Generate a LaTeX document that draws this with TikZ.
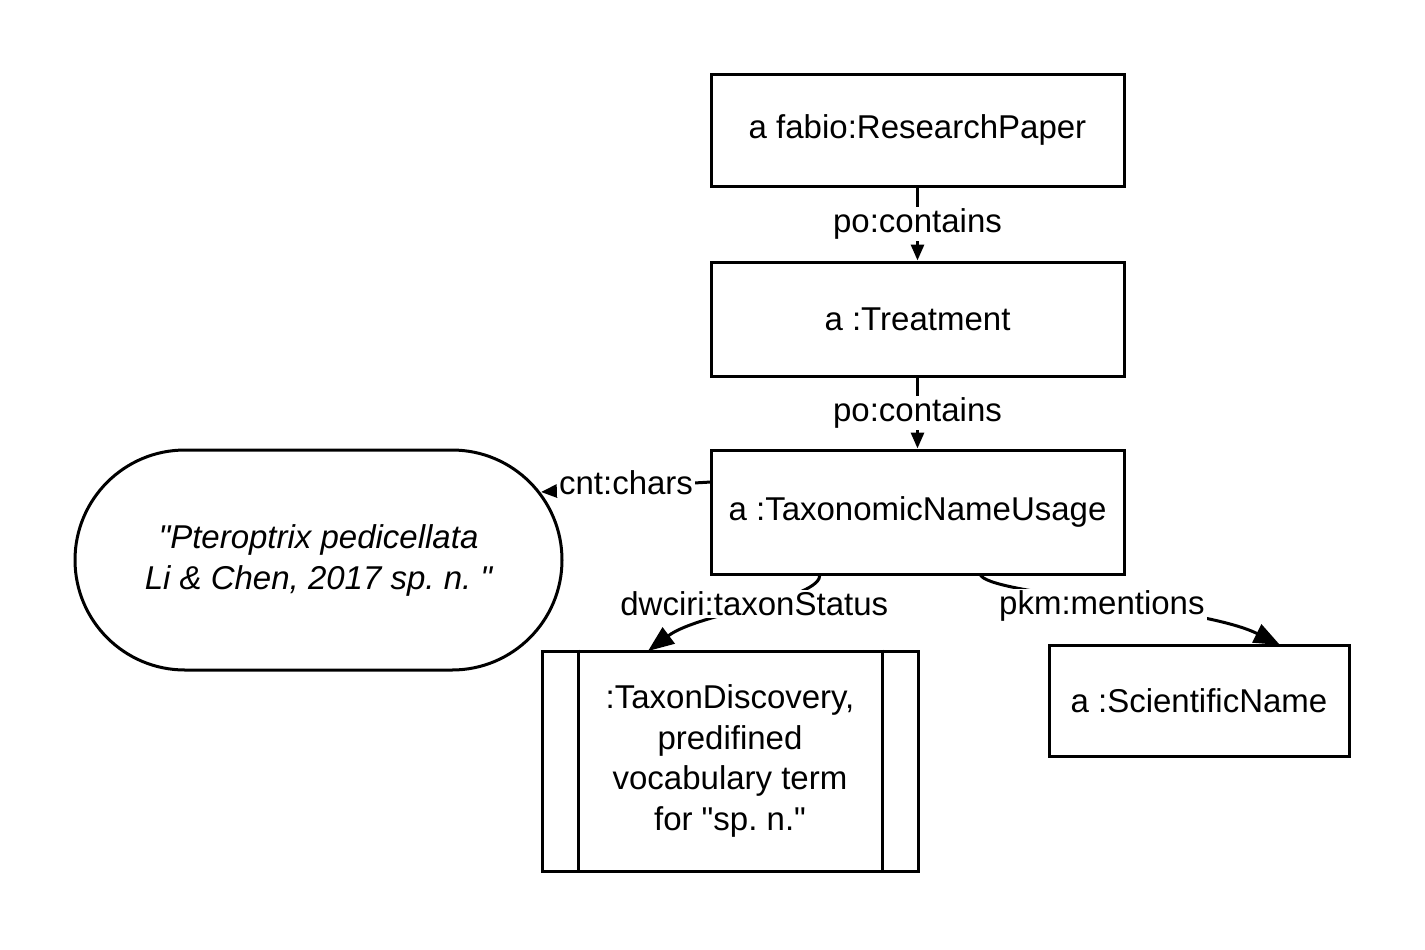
\documentclass[tikz,border=0pt]{standalone}
\usepackage{fontspec}
\setmainfont{Liberation Sans}[Ligatures=TeXOff]
\usetikzlibrary{arrows.meta,shapes.misc}
\begin{document}
\frenchspacing
\begin{tikzpicture}[x=0.5pt,y=-0.5pt,
  every node/.style={font=\fontsize{16.5}{20.25}\selectfont},
  box/.style={draw,line width=1.5pt,rectangle,align=center,inner sep=0pt},
  lbl/.style={fill=white,inner sep=1pt},
  conn/.style={line width=1.5pt,-{Triangle[length=8pt,width=6.5pt]}},
  bigconn/.style={line width=1.5pt,-{Triangle[length=13pt,width=10pt]}}]
\useasboundingbox (0,0) rectangle (1425,949);
\node[box,minimum width=206.5pt,minimum height=56pt] (rp) at (917.5,130) {a fabio:ResearchPaper};
\node[box,minimum width=206.5pt,minimum height=57pt] (tr) at (917.5,319) {a :Treatment};
\node[box,minimum width=206.5pt,minimum height=62pt] (tnu) at (917.5,512) {a :TaxonomicNameUsage};
\node[draw,line width=1.5pt,rounded rectangle,minimum width=243.5pt,minimum height=110pt,align=center,inner sep=0pt,font=\fontsize{16.5}{20.5}\selectfont\itshape] (lit) at (318.5,560) {"Pteroptrix pedicellata\\Li \& Chen, 2017 sp. n. "};
\node[box,minimum width=188pt,minimum height=110pt] (td) at (730,761) {:TaxonDiscovery,\\predifined\\vocabulary term\\for "sp. n."};
\draw[line width=1.5pt] ([xshift=19pt]td.north west) -- ([xshift=19pt]td.south west);
\draw[line width=1.5pt] ([xshift=-18.5pt]td.north east) -- ([xshift=-18.5pt]td.south east);
\node[box,minimum width=150pt,minimum height=55.5pt] (sn) at (1199,700.5) {a :ScientificName};
\draw[conn] (rp.south) -- node[lbl]{po:contains} (tr.north);
\draw[conn] (tr.south) -- node[lbl]{po:contains} (tnu.north);
\coordinate (c1) at (711,482);
\coordinate (c2) at (541,492);
\draw[conn] (c1) -- node[lbl,yshift=2pt]{cnt:chars} (c2);
\coordinate (d1) at (820,574);
\coordinate (d2) at (648,651);
\draw[bigconn] (d1) .. controls (822,600) and (700,612) .. node[lbl,yshift=2pt]{dwciri:taxonStatus} (d2);
\coordinate (m1) at (980,574);
\coordinate (m2) at (1280,645);
\draw[bigconn] (m1) .. controls (985,595) and (1200,605) .. node[lbl,yshift=-2pt]{pkm:mentions} (m2);
\end{tikzpicture}
\end{document}
